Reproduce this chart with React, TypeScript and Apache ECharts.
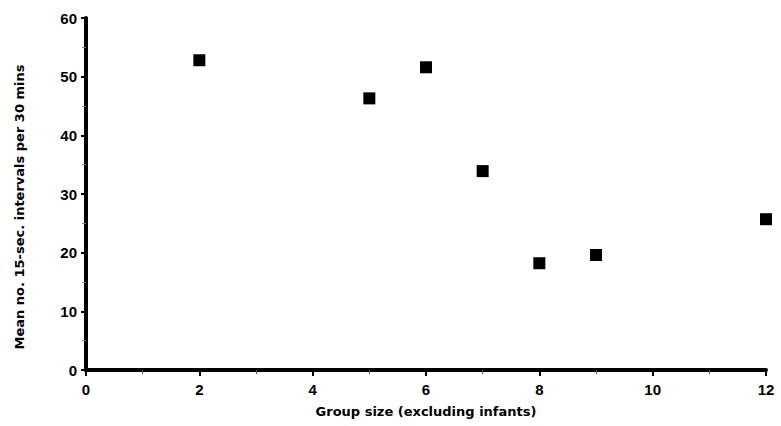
import React, { useEffect, useRef } from "react";
import * as echarts from "echarts";

const groupSize = [2, 5, 6, 7, 8, 9, 12];
const meanIntervals = [52.8, 46.3, 51.6, 33.9, 18.2, 19.6, 25.7];
const xTitle = "Group size (excluding infants)";
const yTitle = "Mean no. 15-sec. intervals per 30 mins";

export default function App() {
  const ref = useRef<HTMLDivElement>(null);
  useEffect(() => {
    if (!ref.current) return;
    const chart = echarts.init(ref.current, null, { renderer: "svg" });
    const font = "'Liberation Sans', Arial, sans-serif";
    const titleFont = "'DejaVu Sans', sans-serif";
    chart.setOption({
      animation: false,
      backgroundColor: "#ffffff",
      grid: { left: 86, right: 15, top: 18, bottom: 56, containLabel: false },
      graphic: [
        {
          type: "text",
          x: 19,
          y: 207,
          rotation: Math.PI / 2,
          style: {
            text: yTitle,
            align: "center",
            verticalAlign: "middle",
            fill: "#000",
            font: `bold 13px ${titleFont}`,
          },
        },
      ],
      xAxis: {
        type: "value",
        min: 0,
        max: 12,
        interval: 2,
        name: xTitle,
        nameLocation: "middle",
        nameGap: 35,
        nameTextStyle: { color: "#000", fontWeight: "bold", fontSize: 13, fontFamily: titleFont },
        axisLine: { show: true, onZero: false, lineStyle: { color: "rgb(0,0,0)", width: 4, opacity: 1 } },
        axisTick: { show: true, length: 6, lineStyle: { color: "#000", width: 2, opacity: 1 } },
        minorTick: { show: true, splitNumber: 2, length: 4, lineStyle: { color: "#555", width: 1 } },
        splitLine: { show: false },
        axisLabel: { color: "#000", fontWeight: "bold", fontSize: 15, fontFamily: font, margin: 12 },
      },
      yAxis: {
        type: "value",
        min: 0,
        max: 60,
        interval: 10,
        axisLine: { show: true, onZero: false, lineStyle: { color: "rgb(0,0,0)", width: 4, opacity: 1 } },
        axisTick: { show: true, length: 5, lineStyle: { color: "#000", width: 2, opacity: 1 } },
        minorTick: { show: true, splitNumber: 2, length: 4, lineStyle: { color: "#777", width: 1 } },
        splitLine: { show: false },
        axisLabel: { color: "#000", fontWeight: "bold", fontSize: 15, fontFamily: font, margin: 9 },
      },
      series: [
        {
          type: "scatter",
          data: groupSize.map((x, i) => [x, meanIntervals[i]]),
          symbol: "rect",
          symbolSize: 12,
          itemStyle: { color: "#000", opacity: 1 },
        },
      ],
    });
    return () => chart.dispose();
  }, []);
  return <div ref={ref} style={{ width: 781, height: 426, position: "absolute", left: 0, top: 0 }} />;
}
